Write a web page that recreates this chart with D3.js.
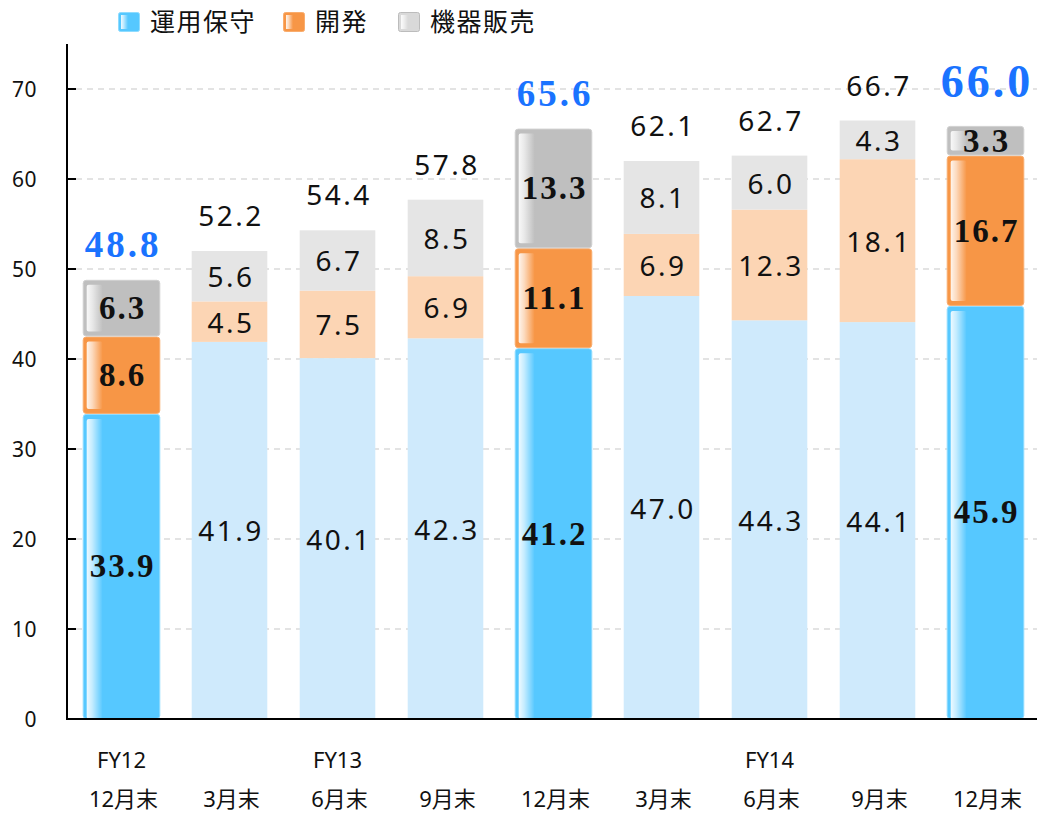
<!DOCTYPE html>
<html><head><meta charset="utf-8">
<script src="https://cdn.jsdelivr.net/npm/d3@7"></script>
<style>
html,body{margin:0;padding:0;background:#fff;}
svg{display:block;}
</style></head>
<body>
<svg id="chart" width="1037" height="813"></svg>
<script>
// ---- data ----
const periods = ["12月末","3月末","6月末","9月末","12月末","3月末","6月末","9月末","12月末"];
const fiscalYears = ["FY12","","FY13","","","","FY14","",""];
const operation = [33.9,41.9,40.1,42.3,41.2,47.0,44.3,44.1,45.9];   // 運用保守
const development = [8.6,4.5,7.5,6.9,11.1,6.9,12.3,18.1,16.7];       // 開発
const equipment = [6.3,5.6,6.7,8.5,13.3,8.1,6.0,4.3,3.3];            // 機器販売
const totals = [48.8,52.2,54.4,57.8,65.6,62.1,62.7,66.7,66.0];
const highlighted = [true,false,false,false,true,false,false,false,true];
const seriesNames = ["運用保守","開発","機器販売"];
const yTicks = [0,10,20,30,40,50,60,70];

// ---- styles ----
const strongColors = ["#56C8FF","#F79646","#BFBFBF"];
const strongStroke = ["#8fdcff","#f9ad6e","#d0d0d0"];
const lightColors = ["#CFEAFC","#FCD5B4","#E5E5E5"];
const sans = "'Noto Sans','Noto Sans CJK JP',sans-serif";
const serif = "'Liberation Serif','DejaVu Serif',serif";

const svg = d3.select("#chart");
const defs = svg.append("defs");
const g1 = defs.append("linearGradient").attr("id","shine").attr("x1","0").attr("x2","1").attr("y1","0").attr("y2","0");
g1.append("stop").attr("offset","0").attr("stop-color","#fff").attr("stop-opacity",0.9);
g1.append("stop").attr("offset","0.35").attr("stop-color","#fff").attr("stop-opacity",0.65);
g1.append("stop").attr("offset","1").attr("stop-color","#fff").attr("stop-opacity",0);

const x = d3.scaleBand().domain(d3.range(periods.length)).range([67.5,1039.5]).paddingInner(0.3).paddingOuter(0.15);
const y = d3.scaleLinear().domain([0,75]).range([719,44]);

// gridlines
svg.append("g").selectAll("line").data(yTicks.filter(d=>d>0)).join("line")
  .attr("x1",76).attr("x2",1037).attr("y1",d=>y(d)).attr("y2",d=>y(d))
  .attr("stroke","#c8c8c8").attr("stroke-width",1.2).attr("stroke-dasharray","6,5");

// stacked data
const series = [operation, development, equipment];
const stacked = periods.map((p,i)=>{
  let acc = 0;
  return series.map((s,k)=>{ const y0 = acc; acc += s[i]; return {i,k,y0,y1:acc,v:s[i]}; });
});

const barG = svg.append("g");
stacked.forEach((segs,i)=>{
  const hl = highlighted[i];
  const bx = x(i) - (hl?1:0), bw = x.bandwidth() + (hl?2:0);
  segs.forEach(s=>{
    const top = y(s.y1), bot = y(s.y0), h = bot-top;
    if(hl){
      barG.append("rect").attr("x",bx+0.5).attr("y",top+0.5).attr("width",bw-1).attr("height",h-1)
        .attr("rx",3).attr("fill",strongColors[s.k]).attr("stroke",strongStroke[s.k]).attr("stroke-width",1);
      barG.append("rect").attr("x",bx+4).attr("y",top+5).attr("width",16).attr("height",Math.max(0,h-(s.k===0?5:10)))
        .attr("rx",2).attr("fill","url(#shine)");
    } else {
      barG.append("rect").attr("x",bx).attr("y",top).attr("width",bw).attr("height",h)
        .attr("fill",lightColors[s.k]);
    }
    barG.append("text").attr("x",x(i)+x.bandwidth()/2+(hl?1:1.5)).attr("y",(top+bot)/2)
      .attr("text-anchor","middle").attr("dominant-baseline","central")
      .style("font-family",hl?serif:sans).style("font-weight",hl?"bold":"normal")
      .style("font-size",hl?"33px":"28px").style("letter-spacing",hl?"2px":"2.5px")
      .attr("fill","#111").text(d3.format(".1f")(s.v));
  });
  // total
  const sum = segs[2].y1;
  const big = i===periods.length-1;
  svg.append("text").attr("x",x(i)+x.bandwidth()/2+1.5)
    .attr("y",y(sum)-(hl?(big?29:23):25))
    .attr("text-anchor","middle")
    .style("font-family",hl?serif:sans).style("font-weight",hl?"bold":"normal")
    .style("font-size",hl?(big?"46px":"37px"):"28px").style("letter-spacing",hl?"3px":"2.5px")
    .attr("fill",hl?"#1a73ff":"#111").text(d3.format(".1f")(totals[i]));
});

// axes
svg.append("line").attr("x1",67).attr("x2",67).attr("y1",44).attr("y2",720).attr("stroke","#000").attr("stroke-width",2);
svg.append("line").attr("x1",66).attr("x2",1037).attr("y1",719).attr("y2",719).attr("stroke","#000").attr("stroke-width",2);
const yt = svg.append("g");
yt.selectAll("line").data(yTicks.filter(d=>d>0)).join("line")
  .attr("x1",67).attr("x2",76).attr("y1",d=>y(d)).attr("y2",d=>y(d)).attr("stroke","#000").attr("stroke-width",2);
yt.selectAll("text").data(yTicks).join("text")
  .attr("x",37).attr("y",d=>y(d)).attr("text-anchor","end").attr("dominant-baseline","central")
  .style("font-family",sans).style("font-size","21px").style("letter-spacing","0.5px").attr("fill","#111").text(d=>d);

// x labels
const xl = svg.append("g");
xl.selectAll("text.fy").data(fiscalYears).join("text").attr("class","fy")
  .attr("x",(d,i)=>x(i)+x.bandwidth()/2).attr("y",768).attr("text-anchor","middle")
  .style("font-family",sans).style("font-size","22px").attr("fill","#111").text(d=>d);
xl.selectAll("text.pd").data(periods).join("text").attr("class","pd")
  .attr("x",(d,i)=>x(i)+x.bandwidth()/2+2).attr("y",807).attr("text-anchor","middle")
  .style("font-family",sans).style("font-size","22px").attr("fill","#111").text(d=>d);

// legend
const legendX = [118,283,398];
const lg = svg.append("g");
seriesNames.forEach((n,k)=>{
  lg.append("rect").attr("x",legendX[k]+0.5).attr("y",12.5).attr("width",21).attr("height",19).attr("rx",2)
    .attr("fill",k===2?"#d9d9d9":strongColors[k]).attr("stroke",k===2?"#bcbcbc":strongStroke[k]);
  lg.append("rect").attr("x",legendX[k]+3).attr("y",15).attr("width",7).attr("height",14).attr("fill","url(#shine)");
  lg.append("text").attr("x",legendX[k]+32).attr("y",31)
    .style("font-family",sans).style("font-size","25px").style("letter-spacing","1.5px").attr("fill","#111").text(n);
});
</script>
</body></html>
